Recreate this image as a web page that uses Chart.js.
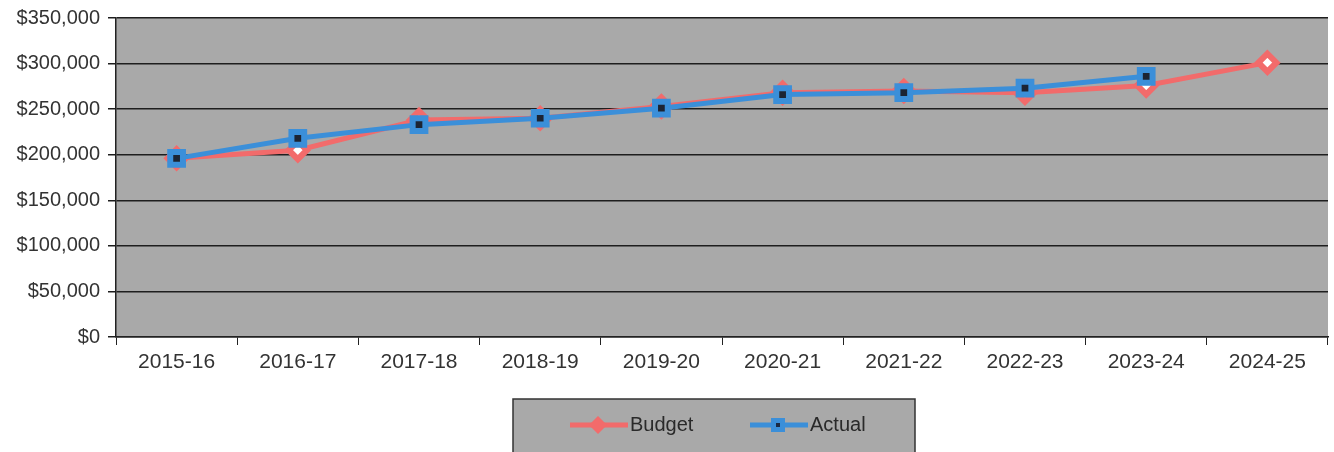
<!DOCTYPE html>
<html>
<head>
<meta charset="utf-8">
<script src="https://cdn.jsdelivr.net/npm/chart.js@4/dist/chart.umd.min.js"></script>
<style>
  html, body { margin: 0; padding: 0; background: #fff; }
  #wrap { width: 1334px; height: 452px; }
</style>
</head>
<body>
<div id="wrap"><canvas id="graph_budget" width="1334" height="452"></canvas></div>
<script>
const years = ['2015-16', '2016-17', '2017-18', '2018-19', '2019-20', '2020-21', '2021-22', '2022-23', '2023-24', '2024-25'];
const budget = [196000, 205000, 238000, 240000, 253000, 268000, 270000, 268000, 276000, 301000];
const actual = [196000, 218000, 233000, 240000, 251000, 266000, 268000, 273000, 286000, null];
const yTicks = [0, 50000, 100000, 150000, 200000, 250000, 300000, 350000];

const red = '#f26b6b';
const blue = '#3b8fd9';
const plotGrey = '#a9a9a9';

// fond gris de la zone de tracé + cadre de la légende
const decor = {
    id: 'decor',
    beforeDraw(chart) {
        const { ctx, chartArea: a } = chart;
        ctx.save();
        ctx.fillStyle = plotGrey;
        ctx.fillRect(a.left, a.top, a.right - a.left, a.bottom - a.top);
        ctx.restore();
    },
    afterDraw(chart) {
        const ctx = chart.ctx;
        ctx.save();
        // boîte de légende
        ctx.fillStyle = plotGrey;
        ctx.fillRect(513, 399, 402, 60);
        ctx.strokeStyle = '#333';
        ctx.lineWidth = 1.5;
        ctx.strokeRect(513, 399, 402, 60);

        ctx.font = '20px "Liberation Sans", Arial, sans-serif';
        ctx.textBaseline = 'middle';
        const cy = 425;

        // Budget
        ctx.strokeStyle = red;
        ctx.lineWidth = 5;
        ctx.beginPath(); ctx.moveTo(570, cy); ctx.lineTo(628, cy); ctx.stroke();
        ctx.fillStyle = red;
        ctx.beginPath();
        ctx.moveTo(598, cy - 9); ctx.lineTo(607, cy); ctx.lineTo(598, cy + 9); ctx.lineTo(589, cy);
        ctx.closePath(); ctx.fill();
        ctx.fillStyle = '#2a2a2a';
        ctx.fillText('Budget', 630, cy);

        // Actual
        ctx.strokeStyle = blue;
        ctx.beginPath(); ctx.moveTo(750, cy); ctx.lineTo(808, cy); ctx.stroke();
        ctx.fillStyle = blue;
        ctx.fillRect(771, cy - 7, 14, 14);
        ctx.fillStyle = '#1a2a44';
        ctx.fillRect(776, cy - 2, 4, 4);
        ctx.fillStyle = '#2a2a2a';
        ctx.fillText('Actual', 810, cy);
        ctx.restore();
    }
};

const ctx = document.getElementById('graph_budget').getContext('2d');

var data = {
    labels: years,
    datasets: [{
        label: 'Budget',
        data: budget,
        order: 2, // dessiné sous la série Actual
        borderColor: red,
        borderWidth: 5,
        pointStyle: 'rectRot',
        pointRadius: 9,
        pointBorderWidth: 6,
        pointBackgroundColor: '#ffffff',
        pointBorderColor: red,
        tension: 0
    }, {
        label: 'Actual',
        data: actual,
        order: 1,
        borderColor: blue,
        borderWidth: 5,
        pointStyle: 'rect',
        pointRadius: 9,
        pointBorderWidth: 6,
        pointBackgroundColor: '#1c2433',
        pointBorderColor: blue,
        tension: 0
    }]
};

var options = {
    responsive: false,
    animation: false,
    layout: { autoPadding: false, padding: { top: 18, right: 6, left: 0, bottom: 0 } },
    plugins: {
        legend: { display: false },
        tooltip: { enabled: false }
    },
    scales: {
        x: {
            offset: true,
            afterFit(axis) {
                axis.height = 115;
                axis.paddingLeft = 0;
                axis.paddingRight = 0;
            },
            grid: {
                offset: true,
                drawOnChartArea: false,
                drawTicks: true,
                tickLength: 8,
                color: '#222'
            },
            border: { color: '#222', width: 1.5 },
            ticks: {
                color: '#333',
                padding: 5,
                maxRotation: 0,
                font: { family: '"Liberation Sans", Arial, sans-serif', size: 21 }
            }
        },
        y: {
            min: 0,
            max: 350000,
            afterFit(axis) {
                axis.width = 116;
                axis.paddingTop = 0;
                axis.paddingBottom = 0;
            },
            afterBuildTicks(axis) { axis.ticks = yTicks.map(v => ({ value: v })); },
            grid: {
                color: '#1e1e1e',
                lineWidth: 1.5,
                tickLength: 8
            },
            border: { color: '#222', width: 1.5 },
            ticks: {
                color: '#333',
                padding: 8,
                font: { family: '"Liberation Sans", Arial, sans-serif', size: 20 },
                callback: v => '$' + v.toLocaleString('en-US')
            }
        }
    }
};

var graph_budget = new Chart(ctx, { type: 'line', data: data, options: options, plugins: [decor] });
</script>
</body>
</html>
